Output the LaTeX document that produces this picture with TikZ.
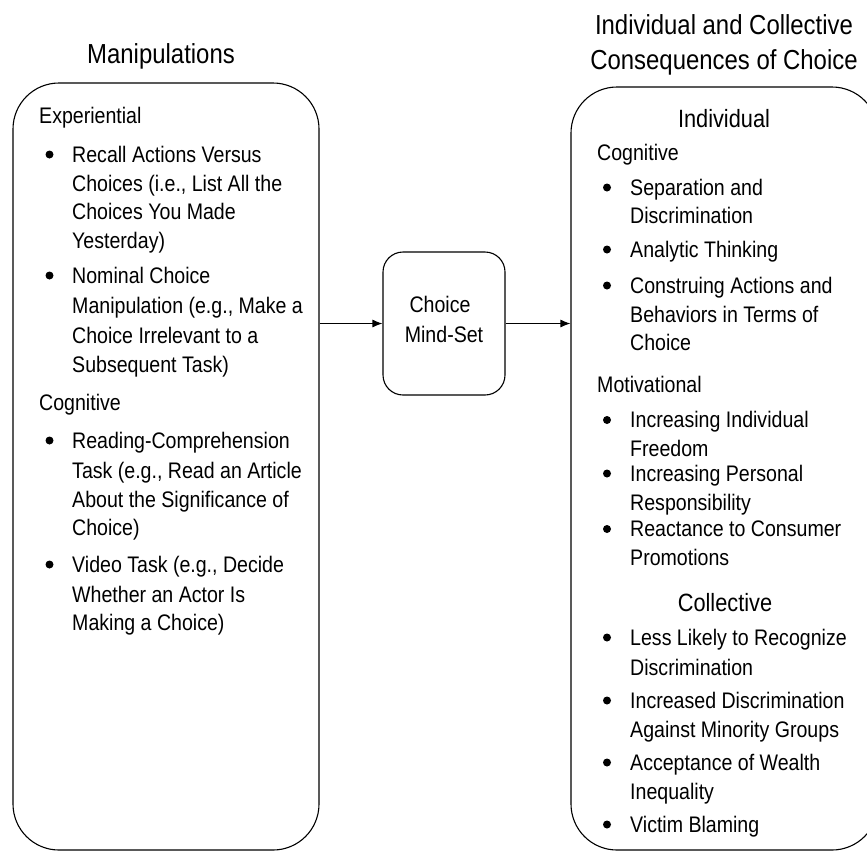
\documentclass[tikz,border=0pt]{standalone}
\usepackage{fontspec}
\setmainfont{Liberation Sans}[FakeStretch=0.87]
\usetikzlibrary{arrows.meta}
\tikzset{
  box/.style={draw, line width=1.1pt, rounded corners=46pt, inner sep=0},
  ln/.style={anchor=base west, inner sep=0, font=\fontsize{22.5}{29}\selectfont},
  hd/.style={anchor=base, inner sep=0, font=\fontsize{25}{30}\selectfont},
  ttl/.style={anchor=base, inner sep=0, font=\fontsize{27.5}{35}\selectfont},
  bul/.style={circle, fill, inner sep=0, minimum size=8pt},
  arr/.style={-{Latex[length=10pt,width=8pt]}, line width=1.1pt},
}
\newcommand{\mytl}[4]{\node[ln] (#1) at (#2,#3) {#4};}
\newcommand{\mybu}[3]{\node[bul] (#1) at (#2,#3) {};}
\begin{document}
\begin{tikzpicture}[x=1pt,y=-1pt]
\clip (0,0) rectangle (867,852);
\fill[white] (0,0) rectangle (867,852);

% titles
\node[ttl] (t1) at (161,63) {Manipulations};
\node[ttl] (t2) at (724,34) {Individual and Collective};
\node[ttl] (t3) at (724,69) {Consequences of Choice};

% boxes
\node[box, minimum width=306pt, minimum height=767pt] (L) at (166,466.5) {};
\node[box, minimum width=307pt, minimum height=763pt] (R) at (724.5,468.5) {};
\node[box, rounded corners=20pt, minimum width=122pt, minimum height=143pt] (M) at (444,323.5) {};
\node[ln, anchor=base] (m1) at (440,312) {Choice};
\node[ln, anchor=base] (m2) at (444,342) {Mind-Set};

% arrows
\draw[arr] (M.west -| L.east) -- (M.west);
\draw[arr] (M.east) -- (M.east -| R.west);

% left box content
\mytl{a0}{39}{123}{Experiential}
\mybu{ab1}{49.5}{154.5}
\mytl{a1}{72}{162}{Recall Actions Versus}
\mytl{a2}{72}{191}{Choices (i.e., List All the}
\mytl{a3}{72}{219}{Choices You Made}
\mytl{a4}{72}{248}{Yesterday)}
\mybu{ab2}{49.5}{275.5}
\mytl{a5}{72}{283}{Nominal Choice}
\mytl{a6}{72}{313}{Manipulation (e.g., Make a}
\mytl{a7}{72}{343}{Choice Irrelevant to a}
\mytl{a8}{72}{372}{Subsequent Task)}
\mytl{a9}{39}{410}{Cognitive}
\mybu{ab3}{49.5}{440.5}
\mytl{a10}{72}{448}{Reading-Comprehension}
\mytl{a11}{72}{478}{Task (e.g., Read an Article}
\mytl{a12}{72}{507}{About the Significance of}
\mytl{a13}{72}{535}{Choice)}
\mybu{ab4}{49.5}{564.5}
\mytl{a14}{72}{572}{Video Task (e.g., Decide}
\mytl{a15}{72}{602}{Whether an Actor Is}
\mytl{a16}{72}{630}{Making a Choice)}

% right box content
\node[hd] (h1) at (724,127) {Individual};
\mytl{r0}{597}{160}{Cognitive}
\mybu{rb1}{607}{187.5}
\mytl{r1}{630}{195}{Separation and}
\mytl{r2}{630}{223}{Discrimination}
\mybu{rb2}{607}{249.5}
\mytl{r3}{630}{257}{Analytic Thinking}
\mybu{rb3}{607}{285.5}
\mytl{r4}{630}{293}{Construing Actions and}
\mytl{r5}{630}{322}{Behaviors in Terms of}
\mytl{r6}{630}{350}{Choice}
\mytl{r7}{597}{392}{Motivational}
\mybu{rb4}{607}{420}
\mytl{r8}{630}{427.5}{Increasing Individual}
\mytl{r9}{630}{456.5}{Freedom}
\mybu{rb5}{607}{473.5}
\mytl{r10}{630}{481}{Increasing Personal}
\mytl{r11}{630}{510}{Responsibility}
\mybu{rb6}{607}{529}
\mytl{r12}{630}{536.5}{Reactance to Consumer}
\mytl{r13}{630}{565}{Promotions}
\node[hd] (h2) at (725,611.5) {Collective};
\mybu{rb7}{607}{637.5}
\mytl{r14}{630}{645}{Less Likely to Recognize}
\mytl{r15}{630}{675}{Discrimination}
\mybu{rb8}{607}{700.5}
\mytl{r16}{630}{708}{Increased Discrimination}
\mytl{r17}{630}{737}{Against Minority Groups}
\mybu{rb9}{607}{762.5}
\mytl{r18}{630}{770}{Acceptance of Wealth}
\mytl{r19}{630}{799}{Inequality}
\mybu{rb10}{607}{824.5}
\mytl{r20}{630}{832}{Victim Blaming}
\end{tikzpicture}
\end{document}
